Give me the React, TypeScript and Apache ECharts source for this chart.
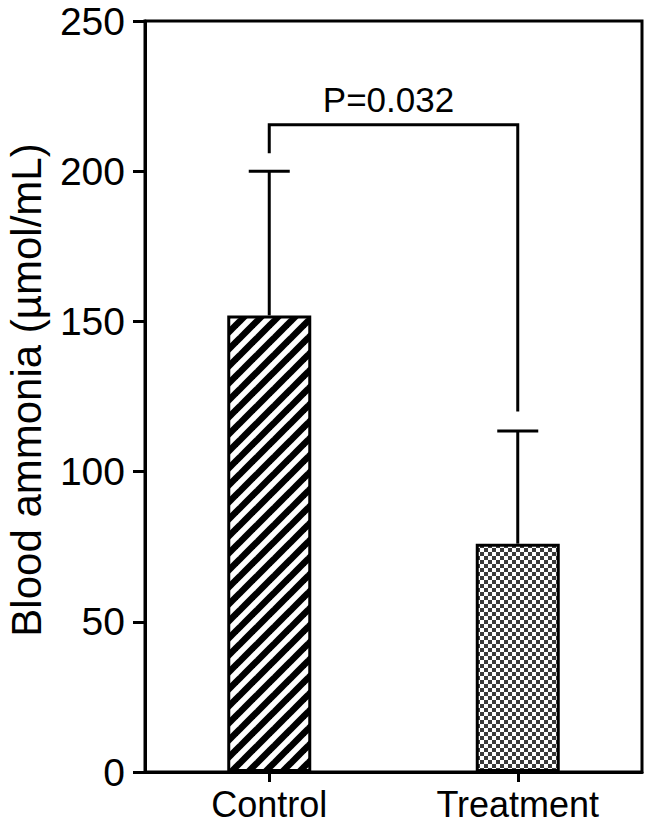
import React, { useEffect, useRef } from "react";
import * as echarts from "echarts";

const categories = ["Control", "Treatment"];
const barValues = [152, 76];
const errorUpper = [200, 113.5];
// bracket: left leg bottom, bracket top, right leg bottom
const bracketLevels = [206, 215.5, 120];
const pLabel = "P=0.032";
const yAxisTitle = "Blood ammonia (\u00b5mol/mL)";
const yMin = 0;
const yMax = 250;
const yInterval = 50;

const FONT = '"Liberation Sans", Arial, Helvetica, sans-serif';

function makeStripePattern(): string {
  const P = 17;
  const c = document.createElement("canvas");
  c.width = P;
  c.height = P;
  const ctx = c.getContext("2d")!;
  ctx.fillStyle = "#fff";
  ctx.fillRect(0, 0, P, P);
  ctx.strokeStyle = "#000";
  ctx.lineWidth = 6.5;
  ctx.lineCap = "butt";
  for (let k = -1; k <= 1; k++) {
    ctx.beginPath();
    ctx.moveTo(k * P - P, 2 * P);
    ctx.lineTo(k * P + 2 * P, -P);
    ctx.stroke();
  }
  return c.toDataURL();
}

function makeCheckerPattern(): string {
  const S = 4;
  const c = document.createElement("canvas");
  c.width = 2 * S;
  c.height = 2 * S;
  const ctx = c.getContext("2d")!;
  ctx.fillStyle = "#fff";
  ctx.fillRect(0, 0, 2 * S, 2 * S);
  ctx.fillStyle = "#3a3a3a";
  ctx.fillRect(0, 0, S, S);
  ctx.fillRect(S, S, S, S);
  return c.toDataURL();
}

export default function App() {
  const ref = useRef<HTMLDivElement>(null);

  useEffect(() => {
    if (!ref.current) return;
    const chart = echarts.init(ref.current, undefined, { renderer: "svg" });
    const stripe = makeStripePattern();
    const checker = makeCheckerPattern();
    const patterns = [
      { image: stripe, repeat: "repeat", imageWidth: 17, imageHeight: 17 },
      { image: checker, repeat: "repeat", imageWidth: 8, imageHeight: 8 },
    ];

    const option: any = {
      animation: false,
      backgroundColor: "#fff",
      grid: {
        left: 145,
        right: 8,
        top: 21,
        bottom: 56,
        show: true,
        borderColor: "#000",
        borderWidth: 3,
        backgroundColor: "transparent",
      },
      xAxis: {
        type: "category",
        data: categories,
        axisLine: { show: true, lineStyle: { color: "#000", width: 3 } },
        axisTick: {
          show: true,
          alignWithLabel: true,
          length: 10,
          lineStyle: { color: "#000", width: 3 },
        },
        axisLabel: {
          color: "#000",
          fontSize: 36,
          fontFamily: FONT,
          margin: 14,
        },
        splitLine: { show: false },
      },
      yAxis: {
        type: "value",
        min: yMin,
        max: yMax,
        interval: yInterval,
        axisLine: { show: true, lineStyle: { color: "#000", width: 3 } },
        axisTick: { show: true, length: 12, lineStyle: { color: "#000", width: 3 } },
        axisLabel: {
          color: "#000",
          fontSize: 39,
          fontFamily: FONT,
          margin: 20,
        },
        splitLine: { show: false },
      },
      graphic: [
        {
          type: "text",
          x: 26,
          y: 390,
          rotation: Math.PI / 2,
          style: {
            text: yAxisTitle,
            fontSize: 42,
            fontFamily: FONT,
            fill: "#000",
            align: "center",
            verticalAlign: "middle",
          },
        },
      ],
      series: [
        {
          type: "bar",
          barWidth: 84,
          data: barValues.map((v, i) => ({
            value: v,
            itemStyle: {
              color: patterns[i],
              borderColor: "#000",
              borderWidth: 3,
            },
          })),
          z: 2,
        },
        {
          type: "custom",
          z: 3,
          data: categories.map((_, i) => [i, barValues[i], errorUpper[i]]),
          encode: { x: 0, y: [1, 2] },
          renderItem: (params: any, api: any) => {
            const x = api.value(0);
            const base = api.coord([x, api.value(1)]);
            const top = api.coord([x, api.value(2)]);
            const half = 20.5;
            const st = { stroke: "#000", lineWidth: 3 };
            return {
              type: "group",
              children: [
                {
                  type: "line",
                  shape: { x1: base[0], y1: base[1], x2: top[0], y2: top[1] },
                  style: st,
                },
                {
                  type: "line",
                  shape: { x1: top[0] - half, y1: top[1], x2: top[0] + half, y2: top[1] },
                  style: st,
                },
              ],
            };
          },
        },
        {
          type: "custom",
          z: 3,
          data: [[0, 1, bracketLevels[0], bracketLevels[1], bracketLevels[2]]],
          encode: { x: [0, 1], y: [2, 3, 4] },
          renderItem: (params: any, api: any) => {
            const a = api.coord([api.value(0), api.value(2)]);
            const t1 = api.coord([api.value(0), api.value(3)]);
            const t2 = api.coord([api.value(1), api.value(3)]);
            const b = api.coord([api.value(1), api.value(4)]);
            return {
              type: "group",
              children: [
                {
                  type: "polyline",
                  shape: { points: [a, t1, t2, b] },
                  style: { stroke: "#000", lineWidth: 3, fill: null },
                },
                {
                  type: "text",
                  style: {
                    text: pLabel,
                    x: (t1[0] + t2[0]) / 2 - 5,
                    y: t1[1] - 25,
                    align: "center",
                    verticalAlign: "middle",
                    fontSize: 35,
                    fontFamily: FONT,
                    fill: "#000",
                  },
                },
              ],
            };
          },
        },
      ],
    };

    chart.setOption(option);
    return () => chart.dispose();
  }, []);

  return (
    <div
      ref={ref}
      style={{ position: "fixed", left: 0, top: 0, width: 650, height: 828 }}
    />
  );
}
